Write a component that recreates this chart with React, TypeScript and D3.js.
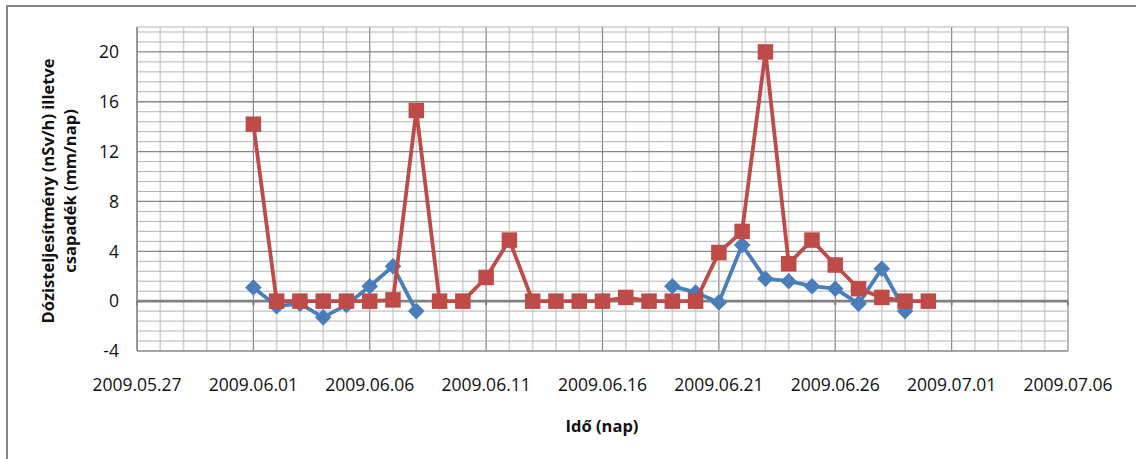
import React from "react";
import * as d3 from "d3";

// Daily observation dates (June 2009)
const days: string[] = [
  "2009-06-01", "2009-06-02", "2009-06-03", "2009-06-04", "2009-06-05",
  "2009-06-06", "2009-06-07", "2009-06-08", "2009-06-09", "2009-06-10",
  "2009-06-11", "2009-06-12", "2009-06-13", "2009-06-14", "2009-06-15",
  "2009-06-16", "2009-06-17", "2009-06-18", "2009-06-19", "2009-06-20",
  "2009-06-21", "2009-06-22", "2009-06-23", "2009-06-24", "2009-06-25",
  "2009-06-26", "2009-06-27", "2009-06-28", "2009-06-29", "2009-06-30",
];

// Dose rate (nSv/h), null where no measurement
const doseRate: (number | null)[] = [
  1.1, -0.4, -0.2, -1.3, -0.3, 1.2, 2.8, -0.8, null, null,
  null, null, null, null, null, null, null, null, 1.2, 0.7,
  -0.1, 4.5, 1.8, 1.6, 1.2, 1.0, -0.2, 2.6, -0.8, null,
];

// Precipitation (mm/day)
const precipitation: number[] = [
  14.2, 0, 0, 0, 0, 0, 0.1, 15.3, 0, 0,
  1.9, 4.9, 0, 0, 0, 0, 0.3, 0, 0, 0,
  3.9, 5.6, 20.0, 3.0, 4.9, 2.9, 1.0, 0.3, 0, 0,
];

const yTicks: number[] = [-4, 0, 4, 8, 12, 16, 20];
const xStart = "2009-05-27";
const xEnd = "2009-07-06";

const W = 1136;
const H = 459;
const plot = { left: 137, right: 1068, top: 27, bottom: 351 };

const FONT = "'Open Sans', 'DejaVu Sans', sans-serif";
const BLUE = "#4A7EBB";
const RED = "#BE4B48";
const GRID_MINOR_H = "#b4b4b4";
const GRID_MINOR_V = "#d2d2d2";
const GRID_MAJOR = "#878787";

const parse = d3.utcParse("%Y-%m-%d");
const fmt = d3.utcFormat("%Y.%m.%d");

export default function App() {
  const x = d3
    .scaleUtc()
    .domain([parse(xStart) as Date, parse(xEnd) as Date])
    .range([plot.left, plot.right]);
  const y = d3.scaleLinear().domain([-4, 22]).range([plot.bottom, plot.top]);

  const allDays = d3.utcDay.range(parse(xStart) as Date, d3.utcDay.offset(parse(xEnd) as Date, 1));
  const majorDays = allDays.filter((_, i) => i % 5 === 0);

  const minorH = d3.range(0, 33).map((i) => -4 + i * 0.8);

  const dates = days.map((d) => parse(d) as Date);

  const doseLine = d3
    .line<[Date, number | null]>()
    .defined((d) => d[1] != null)
    .x((d) => x(d[0]))
    .y((d) => y(d[1] as number));
  const rainLine = d3
    .line<[Date, number]>()
    .x((d) => x(d[0]))
    .y((d) => y(d[1]));

  const dosePts: [Date, number | null][] = dates.map((d, i) => [d, doseRate[i]]);
  const rainPts: [Date, number][] = dates.map((d, i) => [d, precipitation[i]]);

  const dm = 8.3; // diamond half-diagonal
  const sq = 15.5; // square side

  return (
    <svg
      width={W}
      height={H}
      style={{ position: "absolute", left: 0, top: 0, background: "#fff" }}
      fontFamily={FONT}
    >
      <rect x={7} y={6} width={W + 50} height={H + 50} fill="#fff" stroke="#868686" strokeWidth={2} />

      {/* vertical gridlines: one per day, darker every five days */}
      {allDays.map((d, i) => (
        <line
          key={"v" + i}
          x1={x(d)}
          x2={x(d)}
          y1={plot.top}
          y2={plot.bottom}
          stroke={i % 5 === 0 ? GRID_MAJOR : GRID_MINOR_V}
          strokeWidth={i % 5 === 0 ? 1.2 : 1.6}
        />
      ))}

      {/* horizontal gridlines */}
      {minorH.map((v, i) => (
        <line
          key={"h" + i}
          x1={plot.left}
          x2={plot.right}
          y1={y(v)}
          y2={y(v)}
          stroke={i % 5 === 0 ? GRID_MAJOR : GRID_MINOR_H}
          strokeWidth={i % 5 === 0 ? 1.3 : 1}
        />
      ))}
      <line x1={plot.left} x2={plot.right} y1={y(22)} y2={y(22)} stroke={GRID_MINOR_H} strokeWidth={1} />
      <line x1={plot.left} x2={plot.left} y1={plot.top} y2={plot.bottom} stroke={GRID_MAJOR} strokeWidth={1.3} />

      {/* horizontal axis crossing at zero */}
      <line x1={plot.left} x2={plot.right} y1={y(0)} y2={y(0)} stroke="#808080" strokeWidth={2.6} />
      {majorDays.map((d, i) => (
        <line key={"t" + i} x1={x(d)} x2={x(d)} y1={y(0)} y2={y(0) + 4} stroke="#808080" strokeWidth={2} />
      ))}

      {/* y tick labels */}
      {yTicks.map((v) => (
        <text key={"yl" + v} x={119} y={y(v)} dy="0.36em" textAnchor="end" fontSize={17.5} fill="#111">
          {v}
        </text>
      ))}

      {/* x tick labels */}
      {majorDays.map((d, i) => (
        <text key={"xl" + i} x={x(d)} y={391} textAnchor="middle" fontSize={17.5} fill="#111">
          {fmt(d)}
        </text>
      ))}

      {/* dose rate series */}
      <path d={doseLine(dosePts) || ""} fill="none" stroke={BLUE} strokeWidth={3.8} strokeLinejoin="round" />
      {dosePts
        .filter((p) => p[1] != null)
        .map((p, i) => {
          const cx = x(p[0]);
          const cy = y(p[1] as number);
          return (
            <path
              key={"dm" + i}
              d={`M${cx},${cy - dm}L${cx + dm},${cy}L${cx},${cy + dm}L${cx - dm},${cy}Z`}
              fill={BLUE}
            />
          );
        })}

      {/* precipitation series */}
      <path d={rainLine(rainPts) || ""} fill="none" stroke={RED} strokeWidth={3.8} strokeLinejoin="round" />
      {rainPts.map((p, i) => (
        <rect
          key={"sq" + i}
          x={x(p[0]) - sq / 2}
          y={y(p[1]) - sq / 2}
          width={sq}
          height={sq}
          fill={RED}
        />
      ))}

      {/* axis titles */}
      <g transform={`translate(54,191) rotate(-90)`}>
        <text x={0} y={0} textAnchor="middle" fontSize={16.5} fontWeight="bold" fill="#111">
          Dózisteljesítmény (nSv/h) illetve
        </text>
        <text x={0} y={22} textAnchor="middle" fontSize={16.5} fontWeight="bold" fill="#111">
          csapadék (mm/nap)
        </text>
      </g>
      <text x={602} y={432} textAnchor="middle" fontSize={16.5} fontWeight="bold" fill="#111">
        Idő (nap)
      </text>
    </svg>
  );
}
